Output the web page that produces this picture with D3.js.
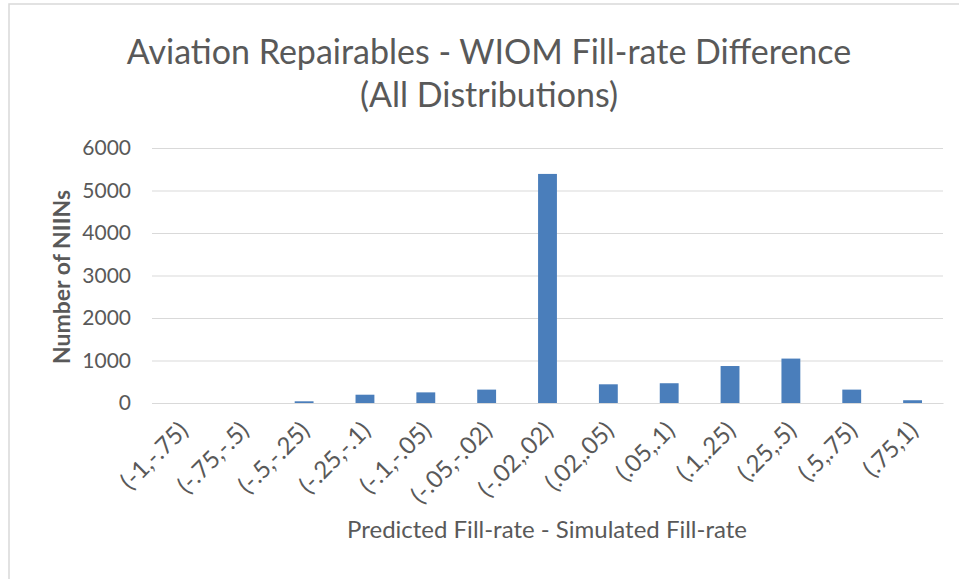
<!DOCTYPE html>
<html>
<head>
<meta charset="utf-8">
<script src="https://cdn.jsdelivr.net/npm/d3@7"></script>
<style>
  body { margin: 0; background: #fff; }
  text { font-family: Lato, "Open Sans", sans-serif; fill: #595959; }
</style>
</head>
<body>
<svg width="959" height="579"></svg>
<script>
var svg = d3.select("svg"),
    width = +svg.attr("width"),
    height = +svg.attr("height");

// categories and counts
var bins = ["(-1,-.75)", "(-.75,-.5)", "(-.5,-.25)", "(-.25,-.1)", "(-.1,-.05)", "(-.05,-.02)",
            "(-.02,.02)", "(.02,.05)", "(.05,.1)", "(.1,.25)", "(.25,.5)", "(.5,.75)", "(.75,1)"];
var counts = [0, 0, 40, 195, 250, 315, 5390, 440, 465, 870, 1045, 315, 65];
var yTicks = [0, 1000, 2000, 3000, 4000, 5000, 6000];

var titleLines = ["Aviation Repairables - WIOM Fill-rate Difference", "(All Distributions)"];
var yTitle = "Number of NIINs";
var xTitle = "Predicted Fill-rate - Simulated Fill-rate";

var margin = {top: 148, right: 16, bottom: 176, left: 152};

// chart frame (only left and top edges show in the crop)
svg.append("rect")
    .attr("x", 9).attr("y", 4)
    .attr("width", width).attr("height", height)
    .attr("fill", "none")
    .attr("stroke", "#d9d9d9")
    .attr("stroke-width", 1.5);

var x = d3.scaleBand()
    .domain(bins)
    .range([margin.left, width - margin.right])
    .paddingInner(0.69)
    .paddingOuter(0.345);

var y = d3.scaleLinear()
    .domain([0, 6000])
    .range([height - margin.bottom, margin.top]);

// gridlines + tick labels
var yAxis = svg.append("g")
    .attr("transform", "translate(" + margin.left + ",0)")
    .call(d3.axisLeft(y)
        .tickValues(yTicks)
        .tickSize(-(width - margin.left - margin.right))
        .tickPadding(21)
        .tickFormat(d3.format("d")));
yAxis.select(".domain").remove();
yAxis.selectAll("line").attr("stroke", "#d9d9d9");
yAxis.selectAll("text")
    .attr("font-size", 21)
    .attr("font-family", "Lato, 'Open Sans', sans-serif")
    .attr("fill", "#595959");

// bars
svg.append("g")
    .selectAll("rect")
    .data(counts)
    .enter().append("rect")
    .attr("x", function (d, i) { return x(bins[i]); })
    .attr("y", function (d) { return y(d); })
    .attr("width", x.bandwidth())
    .attr("height", function (d) { return y(0) - y(d); })
    .attr("fill", "#4a7ebb");

// x axis labels, rotated
var xAxis = svg.append("g")
    .attr("transform", "translate(0," + y(0) + ")")
    .call(d3.axisBottom(x).tickSize(0).tickPadding(0));
xAxis.select(".domain").attr("stroke", "#d9d9d9");
xAxis.selectAll("text")
    .attr("font-size", 24)
    .attr("font-family", "Lato, 'Open Sans', sans-serif")
    .attr("fill", "#595959")
    .attr("text-anchor", "end")
    .attr("dy", null)
    .attr("y", 0)
    .attr("transform", "translate(7,29) rotate(-45)");

// titles
svg.append("g")
    .selectAll("text")
    .data(titleLines)
    .enter().append("text")
    .attr("x", 489)
    .attr("y", function (d, i) { return 64 + i * 43; })
    .attr("text-anchor", "middle")
    .attr("font-size", 34)
    .text(function (d) { return d; });

svg.append("text")
    .attr("transform", "translate(70," + 277 + ") rotate(-90)")
    .attr("text-anchor", "middle")
    .attr("font-size", 23)
    .attr("font-weight", "bold")
    .text(yTitle);

svg.append("text")
    .attr("x", 547)
    .attr("y", 538)
    .attr("text-anchor", "middle")
    .attr("font-size", 24)
    .text(xTitle);
</script>
</body>
</html>
